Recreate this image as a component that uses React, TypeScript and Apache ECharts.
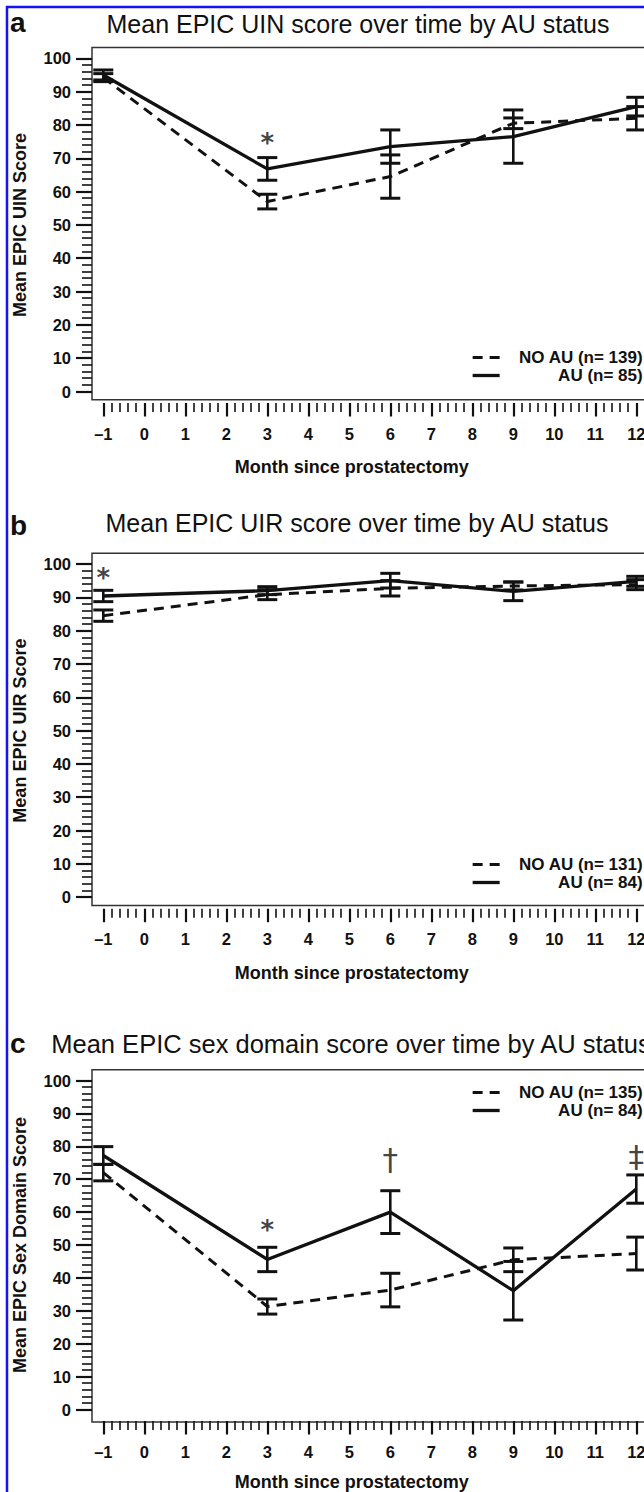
import React, { useEffect, useRef } from "react";
import * as echarts from "echarts";

// ---------- data ----------
const months = [-1, 3, 6, 9, 12];

// Panel a: EPIC UIN
const uinNoAuMean = [94.2, 57, 64.5, 80.5, 82];
const uinNoAuErr = [1.2, 2.2, 6.5, 1.6, 3.5];
const uinAuMean = [95, 66.8, 73.5, 76.5, 85.5];
const uinAuErr = [1.5, 3.4, 5, 8, 2.8];

// Panel b: EPIC UIR
const uirNoAuMean = [84.5, 90.8, 92.7, 93.4, 93.8];
const uirNoAuErr = [1.7, 1.5, 2.3, 1.2, 1.5];
const uirAuMean = [90.4, 92, 95, 91.8, 94.8];
const uirAuErr = [1.7, 1.2, 2.2, 2.8, 1.5];

// Panel c: EPIC sex domain
const sexNoAuMean = [72, 31.3, 36.3, 45.5, 47.4];
const sexNoAuErr = [2.5, 2.3, 5.1, 3.6, 5];
const sexAuMean = [77.2, 45.6, 60, 36.1, 67];
const sexAuErr = [2.7, 3.7, 6.5, 8.9, 4.3];

const noAuNames = ["NO AU (n= 139)", "NO AU (n= 131)", "NO AU (n= 135)"];
const auNames = ["AU (n= 85)", "AU (n= 84)", "AU (n= 84)"];

const titles = [
  "Mean EPIC UIN score over time by AU status",
  "Mean EPIC UIR score over time by AU status",
  "Mean EPIC sex domain score over time by AU status",
];
const panelLetters = ["a", "b", "c"];
const yNames = ["Mean EPIC UIN Score", "Mean EPIC UIR Score", "Mean EPIC Sex Domain Score"];
const xName = "Month since prostatectomy";

// significance marks: month, value, symbol
const markMonths = [[3], [-1], [3, 6, 12]];
const markValues = [[74.5], [95.8], [54.5, 76, 77]];
const markTexts = [["*"], ["*"], ["*", "†", "‡"]];

const yRange = [0, 100];
const xRange = [-1, 12];

// ---------- layout (pixels) ----------
const FONT = '"Liberation Sans", Arial, Helvetica, sans-serif';
const y100 = [58.3, 564, 1080.5];
const plotH = 333.2;
const plotLeft = 103.3;
const plotW = 533;
const boxLeft = 92;
const titleX = [358, 357, 351];
const titleSize = [25, 25, 25.5];
const titleY = [23.5, 523, 1044];
const letterY = [22, 525, 1043];
const legendTop = [344, 851, 1079];
const xNameGap = [55, 55, 52];

function errData(means: number[], errs: number[]) {
  return months.map((m, i) => [m, means[i] - errs[i], means[i] + errs[i]]);
}

function renderErr(params: any, api: any) {
  const x = api.value(0);
  const lo = api.coord([x, api.value(1)]);
  const hi = api.coord([x, api.value(2)]);
  const w = 10;
  return {
    type: "group",
    children: [
      { type: "line", shape: { x1: hi[0], y1: hi[1], x2: lo[0], y2: lo[1] }, style: { stroke: "#111", lineWidth: 2.6 } },
      { type: "line", shape: { x1: hi[0] - w, y1: hi[1], x2: hi[0] + w, y2: hi[1] }, style: { stroke: "#111", lineWidth: 3 } },
      { type: "line", shape: { x1: lo[0] - w, y1: lo[1], x2: lo[0] + w, y2: lo[1] }, style: { stroke: "#111", lineWidth: 3 } },
    ],
  };
}

export default function App() {
  const ref = useRef<HTMLDivElement>(null);
  useEffect(() => {
    if (!ref.current) return;
    const chart = echarts.init(ref.current, undefined, { renderer: "svg" });
    const panels = [
      { noM: uinNoAuMean, noE: uinNoAuErr, auM: uinAuMean, auE: uinAuErr },
      { noM: uirNoAuMean, noE: uirNoAuErr, auM: uirAuMean, auE: uirAuErr },
      { noM: sexNoAuMean, noE: sexNoAuErr, auM: sexAuMean, auE: sexAuErr },
    ];
    const grids: any[] = [];
    const xAxes: any[] = [];
    const yAxes: any[] = [];
    const series: any[] = [];
    const legends: any[] = [];
    const graphics: any[] = [
      {
        type: "rect",
        shape: { x: 7, y: 7, width: 900, height: 1700 },
        style: { fill: "none", stroke: "#1414f0", lineWidth: 2.5 },
        z: 100,
      },
    ];
    panels.forEach((p, i) => {
      grids.push({ left: plotLeft, top: y100[i], width: plotW, height: plotH, show: false });
      xAxes.push({
        type: "value",
        gridIndex: i,
        min: xRange[0],
        max: xRange[1],
        interval: 1,
        offset: 11.5,
        axisLine: { show: false, onZero: false },
        axisTick: { show: true, length: 13.5, lineStyle: { color: "#111", width: 2.2 } },
        minorTick: { show: true, splitNumber: 5, length: 9, lineStyle: { color: "#111", width: 1.6 } },
        splitLine: { show: false },
        minorSplitLine: { show: false },
        axisLabel: {
          margin: 22,
          fontSize: 16.5,
          fontWeight: "bold",
          fontFamily: FONT,
          color: "#111",
          formatter: (v: number) => (v < 0 ? "–" + Math.abs(v) : String(v)),
        },
        name: xName,
        nameLocation: "middle",
        nameGap: xNameGap[i],
        nameTextStyle: { fontSize: 18, fontWeight: "bold", fontFamily: FONT, color: "#111", padding: [0, 36, 0, 0] },
      });
      yAxes.push({
        type: "value",
        gridIndex: i,
        min: yRange[0],
        max: yRange[1],
        interval: 10,
        offset: plotLeft - boxLeft,
        axisLine: { show: false, onZero: false },
        axisTick: { show: true, length: 16, lineStyle: { color: "#111", width: 2.2 } },
        minorTick: { show: true, splitNumber: 5, length: 10, lineStyle: { color: "#111", width: 1.6 } },
        splitLine: { show: false },
        minorSplitLine: { show: false },
        axisLabel: { margin: 21, fontSize: 16.5, fontWeight: "bold", fontFamily: FONT, color: "#111" },
        name: yNames[i],
        nameLocation: "middle",
        nameGap: 63,
        nameTextStyle: { fontSize: 18, fontWeight: "bold", fontFamily: FONT, color: "#111" },
      });
      series.push({
        type: "line",
        name: noAuNames[i],
        xAxisIndex: i,
        yAxisIndex: i,
        data: months.map((m, k) => [m, p.noM[k]]),
        symbol: "none",
        lineStyle: { color: "#111", width: 3, type: [10, 7] },
        itemStyle: { color: "#111" },
        z: 3,
      });
      series.push({
        type: "line",
        name: auNames[i],
        xAxisIndex: i,
        yAxisIndex: i,
        data: months.map((m, k) => [m, p.auM[k]]),
        symbol: "none",
        lineStyle: { color: "#111", width: 3.3, type: "solid" },
        itemStyle: { color: "#111" },
        z: 3,
      });
      series.push({
        type: "custom",
        xAxisIndex: i,
        yAxisIndex: i,
        data: errData(p.noM, p.noE),
        renderItem: renderErr,
        clip: false,
        silent: true,
        z: 4,
      });
      series.push({
        type: "custom",
        xAxisIndex: i,
        yAxisIndex: i,
        data: errData(p.auM, p.auE),
        renderItem: renderErr,
        clip: false,
        silent: true,
        z: 4,
      });
      series.push({
        type: "scatter",
        xAxisIndex: i,
        yAxisIndex: i,
        symbol: "circle",
        symbolSize: 1,
        itemStyle: { color: "rgba(0,0,0,0)" },
        silent: true,
        z: 5,
        data: markMonths[i].map((m, k) => ({
          name: markTexts[i][k],
          value: [m, markValues[i][k]],
          label:
            markTexts[i][k] === "*"
              ? { fontSize: 26, fontWeight: "bold", fontFamily: '"DejaVu Sans", sans-serif' }
              : { fontSize: 31, fontFamily: '"DejaVu Sans", sans-serif' },
        })),
        label: { show: true, position: "inside", formatter: "{b}", color: "#111" },
      });
      legends.push({
        orient: "vertical",
        left: 466,
        top: legendTop[i],
        itemWidth: 27,
        itemHeight: 12,
        itemGap: 1,
        selectedMode: false,
        itemStyle: { color: "rgba(0,0,0,0)", borderWidth: 0, opacity: 0 },
        data: [
          { name: noAuNames[i], lineStyle: { color: "#111", width: 3, type: [10, 7] } },
          { name: auNames[i], lineStyle: { color: "#111", width: 3.3, type: "solid" } },
        ],
        formatter: (n: string) => `{t|${n}}`,
        textStyle: {
          color: "#111",
          fontSize: 17,
          fontWeight: "bold",
          fontFamily: FONT,
          rich: { t: { width: 138, align: "right", fontSize: 17, fontWeight: "bold", fontFamily: FONT, color: "#111" } },
        },
      });
      graphics.push({
        type: "text",
        x: titleX[i],
        y: titleY[i],
        style: {
          text: titles[i],
          fontSize: titleSize[i],
          fontFamily: FONT,
          fill: "#111",
          textAlign: "center",
          textVerticalAlign: "middle",
        },
      });
      graphics.push({
        type: "text",
        x: 10,
        y: letterY[i],
        style: {
          text: panelLetters[i],
          fontSize: 28,
          fontWeight: "bold",
          fontFamily: FONT,
          fill: "#111",
          textAlign: "left",
          textVerticalAlign: "middle",
        },
      });
    });
    // plot frames
    panels.forEach((_, i) => {
      grids.push({
        left: boxLeft,
        top: y100[i] - 10.8,
        width: 640,
        height: plotH + 10.8 + 8.2,
        show: true,
        borderColor: "#333",
        borderWidth: 1.5,
        backgroundColor: "transparent",
      });
      xAxes.push({ type: "value", gridIndex: 3 + i, show: false, min: 0, max: 1 });
      yAxes.push({ type: "value", gridIndex: 3 + i, show: false, min: 0, max: 1 });
    });

    chart.setOption({
      animation: false,
      backgroundColor: "#fff",
      grid: grids,
      xAxis: xAxes,
      yAxis: yAxes,
      legend: legends,
      series,
      graphic: graphics,
    });
    return () => chart.dispose();
  }, []);
  return (
    <div style={{ position: "fixed", left: 0, top: 0, width: 644, height: 1492, overflow: "hidden", background: "#fff" }}>
      <div ref={ref} style={{ width: 720, height: 1492 }} />
    </div>
  );
}
